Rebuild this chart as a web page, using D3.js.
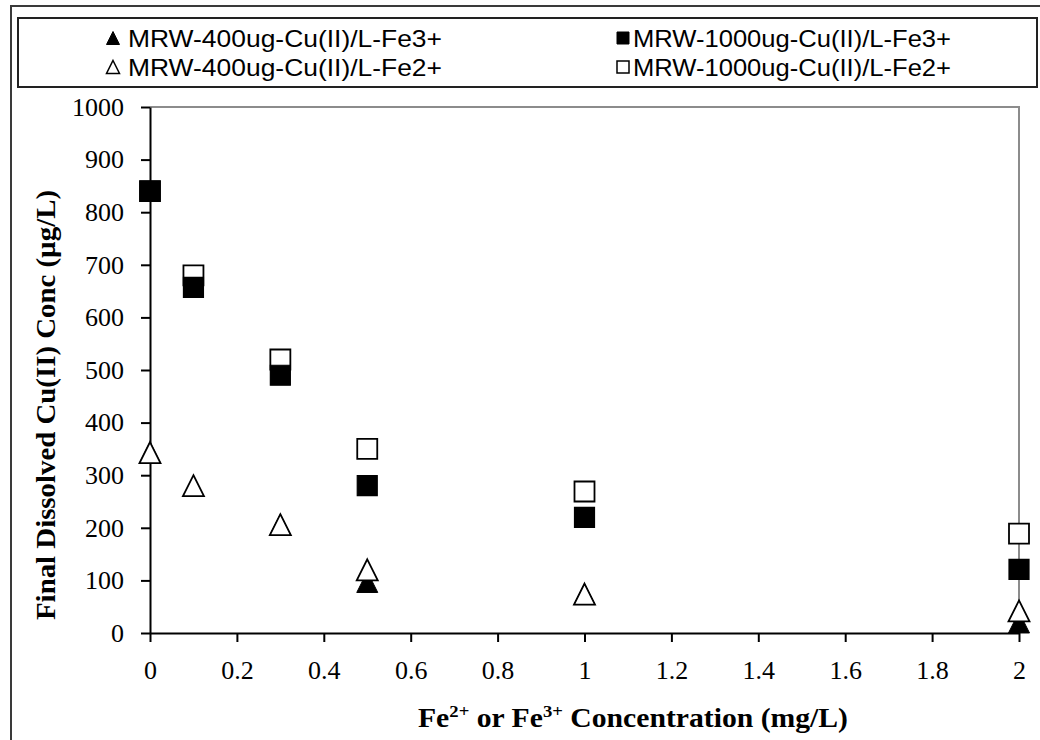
<!DOCTYPE html>
<html>
<head>
<meta charset="utf-8">
<script src="https://cdn.jsdelivr.net/npm/d3@7"></script>
<style>
  body { margin: 0; background: #fff; }
  svg { display: block; }
</style>
</head>
<body>
<div id="chart"></div>
<script>
// Dados
const feConc = [0, 0.1, 0.3, 0.5, 1, 2];
const cu1000Fe3 = [840, 657, 490, 280, 220, 121];
const cu1000Fe2 = [840, 680, 520, 350, 269, 189];
const cu400Fe3X = [0, 0.3, 0.5, 1, 2];
const cu400Fe3 = [343, 206, 97, 74, 20];
const cu400Fe2 = [343, 280, 206, 120, 74, 42];
const xTicks = [0, 0.2, 0.4, 0.6, 0.8, 1, 1.2, 1.4, 1.6, 1.8, 2];
const yTicks = [0, 100, 200, 300, 400, 500, 600, 700, 800, 900, 1000];
const seriesNames = [
    'MRW-400ug-Cu(II)/L-Fe3+', 'MRW-1000ug-Cu(II)/L-Fe3+',
    'MRW-400ug-Cu(II)/L-Fe2+', 'MRW-1000ug-Cu(II)/L-Fe2+'
];

const W = 1040, H = 740;
const plot = {left: 150, right: 1019, top: 107, bottom: 633};
const serif = '"Liberation Serif", "Times New Roman", serif';

const svg = d3.select('#chart').append('svg')
    .attr('width', W)
    .attr('height', H);

// Moldura externa
svg.append('rect')
    .attr('x', 11).attr('y', 6)
    .attr('width', W).attr('height', H)
    .attr('fill', 'none')
    .attr('stroke', '#3a3a3a')
    .attr('stroke-width', 2);

// Escalas
const x = d3.scaleLinear().domain([0, 2]).range([plot.left, plot.right]);
const y = d3.scaleLinear().domain([0, 1000]).range([plot.bottom, plot.top]);

// Borda cinza da área de plotagem (topo e direita)
svg.append('path')
    .attr('d', `M${x(0)},${y(1000)}H${x(2)}V${y(0)}`)
    .attr('fill', 'none')
    .attr('stroke', '#8c8c8c')
    .attr('stroke-width', 2);

// Eixos
const yAxis = svg.append('g')
    .attr('transform', `translate(${plot.left},0)`)
    .call(d3.axisLeft(y).tickValues(yTicks).tickSize(9).tickSizeOuter(0).tickPadding(17)
        .tickFormat(d => String(d)));

const xAxis = svg.append('g')
    .attr('transform', `translate(0,${plot.bottom})`)
    .call(d3.axisBottom(x).tickValues(xTicks).tickSize(9).tickSizeOuter(0).tickPadding(19)
        .tickFormat(d => String(d)));

[yAxis, xAxis].forEach(g => {
    g.select('.domain').attr('stroke', '#000').attr('stroke-width', 2);
    g.selectAll('.tick line').attr('stroke', '#000').attr('stroke-width', 2);
    g.selectAll('.tick text')
        .attr('fill', '#000')
        .style('font-family', serif)
        .style('font-size', '26px');
});

// Títulos dos eixos
svg.append('text')
    .attr('transform', `translate(46,405) rotate(-90)`)
    .attr('text-anchor', 'middle')
    .attr('dominant-baseline', 'central')
    .attr('textLength', 430)
    .attr('lengthAdjust', 'spacingAndGlyphs')
    .style('font-family', serif)
    .style('font-size', '27px')
    .style('font-weight', 'bold')
    .text('Final Dissolved Cu(II) Conc (µg/L)');

const xTitle = svg.append('text')
    .attr('x', 418)
    .attr('y', 727)
    .attr('textLength', 430)
    .attr('lengthAdjust', 'spacingAndGlyphs')
    .style('font-family', serif)
    .style('font-size', '27px')
    .style('font-weight', 'bold');
xTitle.append('tspan').text('Fe');
xTitle.append('tspan').attr('dy', -10).style('font-size', '17px').text('2+');
xTitle.append('tspan').attr('dy', 10).text(' or Fe');
xTitle.append('tspan').attr('dy', -10).style('font-size', '17px').text('3+');
xTitle.append('tspan').attr('dy', 10).text(' Concentration (mg/L)');

// Formas dos marcadores
function trianglePath(w, h) {
    return `M0,${-h / 2}L${w / 2},${h / 2}L${-w / 2},${h / 2}Z`;
}
function squarePath(s) {
    return `M${-s / 2},${-s / 2}h${s}v${s}h${-s}Z`;
}

const markers = svg.append('g');

// Quadrados abertos (1000 Fe2+)
markers.selectAll('.sq-open')
    .data(feConc.map((d, i) => [d, cu1000Fe2[i]]))
    .enter().append('path')
    .attr('transform', d => `translate(${x(d[0])},${y(d[1])})`)
    .attr('d', squarePath(20))
    .attr('fill', '#fff')
    .attr('stroke', '#000')
    .attr('stroke-width', 1.8);

// Quadrados cheios (1000 Fe3+)
markers.selectAll('.sq-fill')
    .data(feConc.map((d, i) => [d, cu1000Fe3[i]]))
    .enter().append('path')
    .attr('transform', d => `translate(${x(d[0])},${y(d[1])})`)
    .attr('d', squarePath(20))
    .attr('fill', '#000')
    .attr('stroke', '#000')
    .attr('stroke-width', 1.2);

// Triângulos cheios (400 Fe3+)
markers.selectAll('.tri-fill')
    .data(cu400Fe3X.map((d, i) => [d, cu400Fe3[i]]))
    .enter().append('path')
    .attr('transform', d => `translate(${x(d[0])},${y(d[1])})`)
    .attr('d', trianglePath(21, 21))
    .attr('fill', '#000')
    .attr('stroke', '#000')
    .attr('stroke-width', 1);

// Triângulos abertos (400 Fe2+)
markers.selectAll('.tri-open')
    .data(feConc.map((d, i) => [d, cu400Fe2[i]]))
    .enter().append('path')
    .attr('transform', d => `translate(${x(d[0])},${y(d[1])})`)
    .attr('d', trianglePath(21, 21))
    .attr('fill', '#fff')
    .attr('stroke', '#000')
    .attr('stroke-width', 1.8);

// Legenda
svg.append('rect')
    .attr('x', 18).attr('y', 18)
    .attr('width', 1019).attr('height', 69)
    .attr('fill', '#fff')
    .attr('stroke', '#222')
    .attr('stroke-width', 2);

const legendPos = [
    {mx: 113, tx: 128, y: 38, len: 314},
    {mx: 623, tx: 633, y: 38, len: 318},
    {mx: 113, tx: 128, y: 67, len: 314},
    {mx: 623, tx: 633, y: 67, len: 318}
];
const legendShape = [
    {d: trianglePath(13, 13), fill: '#000', sw: 1},
    {d: squarePath(12), fill: '#000', sw: 1},
    {d: trianglePath(13, 13), fill: '#fff', sw: 1.5},
    {d: squarePath(12), fill: '#fff', sw: 1.5}
];

const legendItems = svg.selectAll('.legend-item')
    .data(seriesNames)
    .enter().append('g')
    .attr('class', 'legend-item');

legendItems.append('path')
    .attr('transform', (d, i) => `translate(${legendPos[i].mx},${legendPos[i].y})`)
    .attr('d', (d, i) => legendShape[i].d)
    .attr('fill', (d, i) => legendShape[i].fill)
    .attr('stroke', '#000')
    .attr('stroke-width', (d, i) => legendShape[i].sw);

legendItems.append('text')
    .attr('x', (d, i) => legendPos[i].tx)
    .attr('y', (d, i) => legendPos[i].y)
    .attr('dominant-baseline', 'central')
    .attr('textLength', (d, i) => legendPos[i].len)
    .attr('lengthAdjust', 'spacingAndGlyphs')
    .style('font-family', '"Liberation Sans", Arial, sans-serif')
    .style('font-size', '24px')
    .attr('fill', '#000')
    .text(d => d);
</script>
</body>
</html>
